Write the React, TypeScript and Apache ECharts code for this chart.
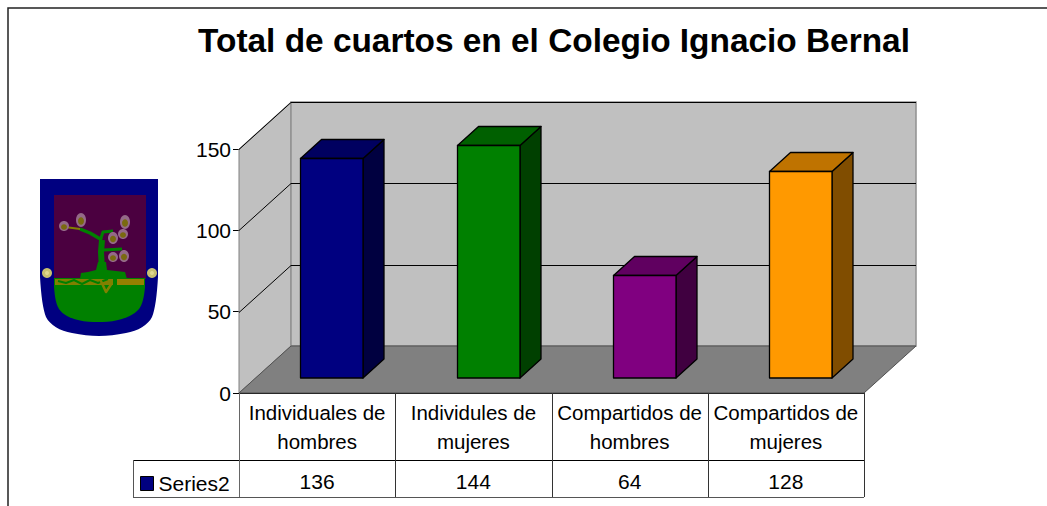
import React, { useEffect, useRef } from "react";
import * as echarts from "echarts";

const titleText = "Total de cuartos en el Colegio Ignacio Bernal";
const seriesName = "Series2";
const categories = [
  "Individuales de\nhombres",
  "Individules de\nmujeres",
  "Compartidos de\nhombres",
  "Compartidos de\nmujeres",
];
const values = [136, 144, 64, 128];
const yTicks = [50, 100, 150];
const faceColors = ["#000080", "#008000", "#800080", "#ff9900"];
const topColors = ["#000060", "#006000", "#600060", "#bf7300"];
const sideColors = ["#000040", "#004000", "#400040", "#804d00"];

const FONT = '"Liberation Sans", Arial, sans-serif';

echarts.graphic.registerShape(
  "shieldOuter",
  echarts.graphic.extendPath(
    "M40 179 H158 V277 C157 295 155 310 152 317 C148 325 138 331 126 333 C116 335 108 336 99 336 C90 336 82 335 72 333 C60 331 50 325 46 317 C43 310 41 295 40 277 Z",
    {}
  )
);
echarts.graphic.registerShape(
  "shieldGreen",
  echarts.graphic.extendPath(
    "M54 278 H145 V287 C144 298 142 305 139 309 C134 315 126 318 118 320 C110 322 104 322 98 322 C92 322 86 322 78 320 C70 318 63 315 59 309 C56 304 55 298 54 287 Z",
    {}
  )
);

const leaf = (x: number, y: number, rx = 5, ry = 6) => [
  { type: "ellipse", shape: { cx: x, cy: y, rx, ry }, style: { fill: "#946a88" }, z: 6 },
  { type: "ellipse", shape: { cx: x, cy: y + 1, rx: rx * 0.6, ry: ry * 0.55 }, style: { fill: "#7a6a10" }, z: 7 },
];
const branch = (points: number[][], w = 3, color = "#008000") => ({
  type: "polyline",
  shape: { points },
  style: { stroke: color, lineWidth: w, fill: "none", lineJoin: "round" },
  z: 5,
});
const dot = (x: number, y: number) => [
  { type: "circle", shape: { cx: x, cy: y, r: 5 }, style: { fill: "#c8c070" }, z: 6 },
  { type: "circle", shape: { cx: x, cy: y, r: 2 }, style: { fill: "#e0d890" }, z: 7 },
];

const logoElements: any[] = [
  { type: "shieldOuter", style: { fill: "#000080" }, z: 2 },
  { type: "rect", shape: { x: 54, y: 195, width: 92, height: 84 }, style: { fill: "#4b0040" }, z: 3 },
  { type: "shieldGreen", style: { fill: "#008000" }, z: 3 },
  { type: "rect", shape: { x: 117, y: 279, width: 27, height: 6 }, style: { fill: "#948000" }, z: 4 },
  { type: "rect", shape: { x: 55, y: 279, width: 58, height: 6 }, style: { fill: "#808000" }, z: 4 },
  branch([[58, 281], [66, 283], [74, 280], [82, 284], [90, 280], [98, 283], [108, 279]], 2, "#008000"),
  branch([[100, 279], [106, 292], [112, 283]], 2.5, "#808000"),
  branch([[102, 270], [101, 252], [102, 240]], 6),
  branch([[102, 240], [90, 233], [80, 229]], 3.5),
  branch([[80, 229], [65, 227]], 2, "#808000"),
  branch([[101, 238], [103, 232], [113, 231]], 3),
  branch([[104, 250], [122, 249]], 3),
  {
    type: "polygon",
    shape: {
      points: [[80, 279], [81, 273], [88, 272], [96, 270], [98, 262], [106, 262], [107, 270], [125, 272], [127, 279]],
    },
    style: { fill: "#008000" },
    z: 5,
  },
  ...leaf(64, 226, 5, 5),
  ...leaf(81, 220, 5, 7),
  ...leaf(125, 222, 5, 7),
  ...leaf(113, 238, 5, 6),
  ...leaf(123, 234, 5, 5),
  ...leaf(113, 257, 5, 5),
  ...leaf(124, 256, 5, 6),
  ...dot(47, 273),
  ...dot(152, 273),
];

const DX = 52;
const DY = 47;

function renderWalls(params: any, api: any) {
  const c = params.coordSys;
  const l = c.x;
  const r = c.x + c.width;
  const b = c.y + c.height;
  const t = c.y;
  const children: any[] = [
    {
      type: "polygon",
      shape: { points: [[l, b], [l, t], [l + DX, t - DY], [l + DX, b - DY]] },
      style: { fill: "#c0c0c0", stroke: "#808080", lineWidth: 1 },
    },
    {
      type: "polygon",
      shape: { points: [[l + DX, t - DY], [r + DX, t - DY], [r + DX, b - DY], [l + DX, b - DY]] },
      style: { fill: "#c0c0c0", stroke: "#909090", lineWidth: 1.5 },
    },
    {
      type: "polygon",
      shape: { points: [[l, b], [l + DX, b - DY], [r + DX, b - DY], [r, b]] },
      style: { fill: "#808080", stroke: "#505050", lineWidth: 1 },
    },
  ];
  yTicks.forEach((v) => {
    const y = Math.round(api.coord([0, v])[1]) + 0.5;
    children.push({
      type: "polyline",
      shape: { points: [[l, y], [l + DX, y - DY], [r + DX, y - DY]] },
      style: { stroke: "#000", lineWidth: 1, fill: "none" },
    });
  });
  return { type: "group", children };
}

function renderTable(params: any, api: any) {
  const c = params.coordSys;
  const l = c.x;
  const b = c.y + c.height;
  const band = api.size([1, 0])[0];
  const rowA = b + 67;
  const rowB = b + 104;
  const children: any[] = [];
  const hl = (x1: number, x2: number, y: number, color: string) => ({
    type: "line",
    shape: { x1, y1: y + 0.5, x2, y2: y + 0.5 },
    style: { stroke: color, lineWidth: 1 },
  });
  const vl = (x: number, y1: number, y2: number, color: string) => ({
    type: "line",
    shape: { x1: Math.round(x) + 0.5, y1, x2: Math.round(x) + 0.5, y2 },
    style: { stroke: color, lineWidth: 1 },
  });
  children.push(hl(133, c.x + c.width, rowA, "#000"));
  children.push(hl(133, c.x + c.width, rowB, "#555"));
  children.push(vl(133, rowA, rowB, "#555"));
  for (let i = 0; i <= categories.length; i++) {
    children.push(vl(l + band * i, b, rowB, i === 0 ? "#666" : "#333"));
  }
  return { type: "group", children };
}

function renderBar(params: any, api: any) {
  const i = params.dataIndex;
  const cat = api.value(0);
  const val = api.value(1);
  const cx = api.coord([cat, 0])[0] + 15;
  const w = 62.5;
  const bx = 21;
  const by = 19;
  const baseY = api.coord([cat, 0])[1] - 15;
  const topY = Math.round(api.coord([cat, val])[1] - 14) + 0.5;
  const l = Math.floor(cx - w / 2) + 0.5;
  const r = l + w;
  const edge = { stroke: "#000", lineWidth: 1.3, lineJoin: "round" };
  const c = params.coordSys;
  const xc = api.coord([cat, 0])[0];
  return {
    type: "group",
    children: [
      {
        type: "polygon",
        shape: { points: [[r, baseY], [r, topY], [r + bx, topY - by], [r + bx, baseY - by]] },
        style: { fill: sideColors[i], ...edge },
      },
      {
        type: "polygon",
        shape: { points: [[l, topY], [l + bx, topY - by], [r + bx, topY - by], [r, topY]] },
        style: { fill: topColors[i], ...edge },
      },
      {
        type: "rect",
        shape: { x: l, y: topY, width: w, height: baseY - topY },
        style: { fill: faceColors[i], ...edge },
      },
      {
        type: "text",
        x: xc,
        y: c.y + c.height + 88,
        style: {
          text: String(val),
          fill: "#000",
          font: `21px ${FONT}`,
          align: "center",
          verticalAlign: "middle",
        },
      },
    ],
  };
}

export default function App() {
  const ref = useRef<HTMLDivElement>(null);
  useEffect(() => {
    document.body.style.margin = "0";
    const chart = echarts.init(ref.current!, null, { renderer: "svg" });
    chart.setOption({
      animation: false,
      backgroundColor: "#fff",
      title: {
        text: titleText,
        left: 549,
        top: 19,
        textAlign: "center",
        textStyle: { fontFamily: FONT, fontSize: 33.4, fontWeight: "bold", color: "#000" },
      },
      legend: {
        left: 140,
        top: 473,
        padding: 0,
        itemWidth: 13,
        itemHeight: 14,
        itemGap: 0,
        textStyle: { fontFamily: FONT, fontSize: 21, color: "#000", padding: [0, 0, 0, 0] },
        data: [
          {
            name: seriesName,
            icon: "rect",
            itemStyle: { color: "#000080", borderColor: "#000", borderWidth: 1 },
          },
        ],
      },
      grid: { left: 239, top: 149, width: 625, height: 244, containLabel: false },
      xAxis: {
        type: "category",
        data: categories,
        axisLine: { show: true, lineStyle: { color: "#000", width: 1 } },
        axisTick: { show: false },
        axisLabel: {
          interval: 0,
          margin: 5,
          lineHeight: 29,
          fontFamily: FONT,
          fontSize: 20.5,
          color: "#000",
        },
      },
      yAxis: {
        type: "value",
        min: 0,
        max: 150,
        interval: 50,
        splitLine: { show: false },
        axisLine: { show: true, lineStyle: { color: "#808080", width: 1 } },
        axisTick: { show: true, length: 6, lineStyle: { color: "#000", width: 1 } },
        axisLabel: { margin: 8, fontFamily: FONT, fontSize: 21, color: "#000" },
      },
      graphic: {
        elements: [
          {
            type: "polyline",
            shape: { points: [[8, 506], [8, 8], [1047, 8]] },
            style: { stroke: "#222", lineWidth: 1.5, fill: "none" },
            silent: true,
            z: 1,
          },
          ...logoElements,
        ],
      },
      series: [
        {
          type: "custom",
          name: "walls",
          renderItem: renderWalls,
          data: [[0, 0]],
          silent: true,
          z: 1,
          encode: { x: 0, y: 1 },
        },
        {
          type: "custom",
          name: "table",
          renderItem: renderTable,
          data: [[0, 0]],
          silent: true,
          z: 1,
          encode: { x: 0, y: 1 },
        },
        {
          type: "custom",
          name: seriesName,
          renderItem: renderBar,
          itemStyle: { color: "#000080" },
          data: values.map((v, i) => [i, v]),
          z: 3,
          encode: { x: 0, y: 1 },
        },
      ],
    });
    return () => chart.dispose();
  }, []);
  return <div ref={ref} style={{ width: 1047, height: 506 }} />;
}
